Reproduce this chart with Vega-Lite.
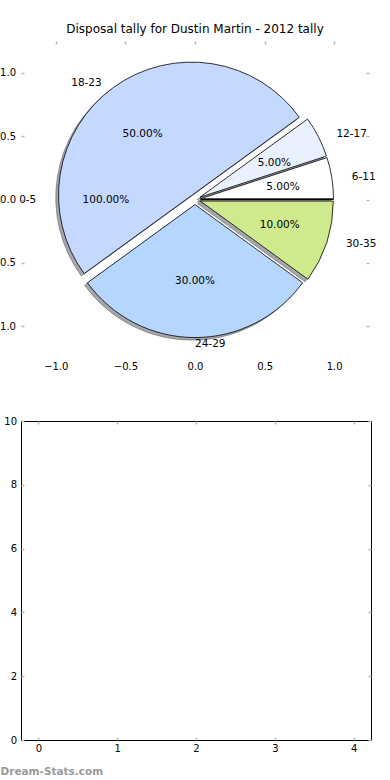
{
  "$schema": "https://vega.github.io/schema/vega-lite/v6.json",
  "background": "white",
  "padding": {"left": -12, "top": 23, "right": 0, "bottom": 2},
  "spacing": 44,
  "config": {
    "font": "DejaVu Sans",
    "axis": {"labelFont": "DejaVu Sans", "labelFontSize": 10, "labelColor": "#000000", "grid": false, "domain": false, "title": null, "tickColor": "#b8b8b8", "tickWidth": 1.5, "tickSize": -3}
  },
  "title": {"text": "Dream-Stats.com", "orient": "bottom", "anchor": "start", "font": "DejaVu Sans", "fontSize": 10.5, "fontWeight": "bold", "color": "#9a9a9a", "offset": 13.5, "dx": 12, "frame": "bounds"},
  "datasets": {
    "tally": [
      {"label": "0-5", "value": 0, "pct": "100.00%"},
      {"label": "6-11", "value": 1, "pct": "5.00%"},
      {"label": "12-17", "value": 1, "pct": "5.00%"},
      {"label": "18-23", "value": 10, "pct": "50.00%"},
      {"label": "24-29", "value": 6, "pct": "30.00%"},
      {"label": "30-35", "value": 2, "pct": "10.00%"}
    ]
  },
  "vconcat": [
    {
      "title": {"text": "Disposal tally for Dustin Martin - 2012 tally", "font": "DejaVu Sans", "fontSize": 12, "fontWeight": "normal", "color": "#000000", "offset": 4},
      "width": 348,
      "height": 317,
      "view": {"stroke": null},
      "data": {"name": "tally"},
      "transform": [
        {"window": [{"op": "sum", "field": "value", "as": "cum"}], "frame": [null, 0]},
        {"joinaggregate": [{"op": "sum", "field": "value", "as": "total"}]},
        {"calculate": "(datum.cum - datum.value) / datum.total", "as": "f0"},
        {"calculate": "datum.cum / datum.total", "as": "f1"},
        {"calculate": "PI * (datum.f0 + datum.f1)", "as": "wm"},
        {"calculate": "datum.value > 0 ? datum.wm : PI", "as": "lm"},
        {"calculate": "0.04 * cos(datum.wm)", "as": "cx"},
        {"calculate": "0.04 * sin(datum.wm)", "as": "cy"},
        {"calculate": "datum.cx - 0.02", "as": "sx"},
        {"calculate": "datum.cy - 0.02", "as": "sy"},
        {"calculate": "PI / 2 - 2 * PI * datum.f0", "as": "t0"},
        {"calculate": "PI / 2 - 2 * PI * datum.f1", "as": "t1"},
        {"calculate": "1.14 * cos(datum.lm)", "as": "lx"},
        {"calculate": "1.14 * sin(datum.lm)", "as": "ly"},
        {"calculate": "0.64 * cos(datum.lm)", "as": "px"},
        {"calculate": "0.64 * sin(datum.lm)", "as": "py"}
      ],
      "layer": [
        {
          "mark": {"type": "arc", "radius": 133, "fill": "#4d4f55", "fillOpacity": 0.5, "stroke": "#4d4f55", "strokeOpacity": 0.5, "strokeWidth": 1},
          "encoding": {
            "x": {"field": "sx", "type": "quantitative", "scale": {"domain": [-1.25, 1.25], "nice": false, "zero": false},
                  "axis": {"orient": "bottom", "values": [-1, -0.5, 0, 0.5, 1], "format": ".1f", "ticks": false, "labelPadding": 3}},
            "y": {"field": "sy", "type": "quantitative", "scale": {"domain": [-1.25, 1.25], "nice": false, "zero": false},
                  "axis": {"orient": "left", "values": [-1, -0.5, 0, 0.5, 1], "format": ".1f", "labelPadding": 8.5, "minExtent": 32}},
            "theta": {"field": "t0", "type": "quantitative", "scale": null},
            "theta2": {"field": "t1"}
          }
        },
        {
          "mark": {"type": "arc", "radius": 133, "stroke": "#000000", "strokeWidth": 0.8},
          "encoding": {
            "x": {"field": "cx", "type": "quantitative", "scale": {"domain": [-1.25, 1.25], "nice": false, "zero": false},
                  "axis": {"orient": "top", "values": [-1, -0.5, 0, 0.5, 1], "labels": false}},
            "y": {"field": "cy", "type": "quantitative", "scale": {"domain": [-1.25, 1.25], "nice": false, "zero": false},
                  "axis": {"orient": "right", "values": [-1, -0.5, 0, 0.5, 1], "labels": false}},
            "theta": {"field": "t0", "type": "quantitative", "scale": null},
            "theta2": {"field": "t1"},
            "color": {"field": "label", "type": "nominal", "legend": null,
                      "scale": {"domain": ["0-5", "6-11", "12-17", "18-23", "24-29", "30-35"],
                                "range": ["#c5d8ff", "#ffffff", "#e9f1ff", "#c5d8ff", "#b4d6ff", "#cfea8c"]}}
          }
        },
        {
          "mark": {"type": "text", "fontSize": 10.5, "font": "DejaVu Sans", "color": "#000000", "align": "center", "baseline": "middle"},
          "encoding": {
            "x": {"field": "px", "type": "quantitative", "axis": null, "scale": {"domain": [-1.25, 1.25], "nice": false, "zero": false}},
            "y": {"field": "py", "type": "quantitative", "axis": null, "scale": {"domain": [-1.25, 1.25], "nice": false, "zero": false}},
            "text": {"field": "pct"}
          }
        },
        {
          "transform": [{"filter": "datum.lx >= -0.001"}],
          "mark": {"type": "text", "fontSize": 10.5, "font": "DejaVu Sans", "color": "#000000", "align": "left", "baseline": "middle"},
          "encoding": {
            "x": {"field": "lx", "type": "quantitative", "axis": null, "scale": {"domain": [-1.25, 1.25], "nice": false, "zero": false}},
            "y": {"field": "ly", "type": "quantitative", "axis": null, "scale": {"domain": [-1.25, 1.25], "nice": false, "zero": false}},
            "text": {"field": "label"}
          }
        },
        {
          "transform": [{"filter": "datum.lx < -0.001"}],
          "mark": {"type": "text", "fontSize": 10.5, "font": "DejaVu Sans", "color": "#000000", "align": "right", "baseline": "middle"},
          "encoding": {
            "x": {"field": "lx", "type": "quantitative", "axis": null, "scale": {"domain": [-1.25, 1.25], "nice": false, "zero": false}},
            "y": {"field": "ly", "type": "quantitative", "axis": null, "scale": {"domain": [-1.25, 1.25], "nice": false, "zero": false}},
            "text": {"field": "label"}
          }
        }
      ],
      "resolve": {"axis": {"x": "independent", "y": "independent"}}
    },
    {
      "width": 350,
      "height": 319,
      "view": {"stroke": "#000000", "strokeWidth": 1},
      "data": {"values": []},
      "layer": [
        {
          "mark": {"type": "point"},
          "encoding": {
            "x": {"field": "x", "type": "quantitative", "scale": {"domain": [-0.22, 4.22], "nice": false, "zero": false},
                  "axis": {"orient": "bottom", "values": [0, 1, 2, 3, 4], "format": "d", "labelPadding": 6}},
            "y": {"field": "y", "type": "quantitative", "scale": {"domain": [0, 10], "nice": false, "zero": false},
                  "axis": {"orient": "left", "values": [0, 2, 4, 6, 8, 10], "format": "d", "labelPadding": 7.5, "minExtent": 32}}
          }
        },
        {
          "mark": {"type": "point"},
          "encoding": {
            "x": {"field": "x", "type": "quantitative", "scale": {"domain": [-0.22, 4.22], "nice": false, "zero": false},
                  "axis": {"orient": "top", "values": [0, 1, 2, 3, 4], "labels": false}},
            "y": {"field": "y", "type": "quantitative", "scale": {"domain": [0, 10], "nice": false, "zero": false},
                  "axis": {"orient": "right", "values": [0, 2, 4, 6, 8, 10], "labels": false}}
          }
        }
      ],
      "resolve": {"axis": {"x": "independent", "y": "independent"}}
    }
  ]
}
